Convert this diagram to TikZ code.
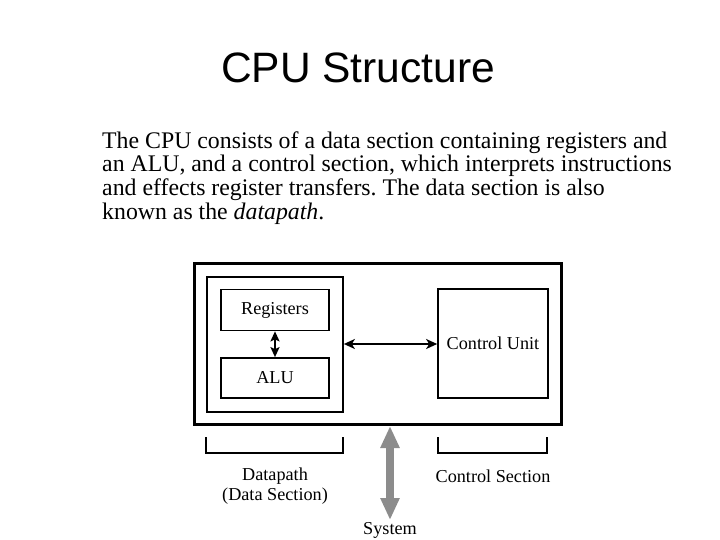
\documentclass[tikz,border=0pt]{standalone}
\usepackage{fontspec}
\setmainfont{Liberation Serif}
\newfontfamily\titlefont{Liberation Sans}
\usetikzlibrary{arrows.meta}
\tikzset{
  cuTip/.tip={Stealth[length=11pt,width=10pt,inset=3pt]},
  regTip/.tip={Stealth[length=10pt,width=9pt,inset=2pt]},
  sysTip/.tip={Triangle[width=18pt,length=22pt,fill=gray!90]}
}
\begin{document}
\begin{tikzpicture}[x=1pt,y=-1pt,
  box/.style={draw,line width=1.7pt,inner sep=0pt},
  lbl/.style={font=\fontsize{18.2}{20}\selectfont,inner sep=0pt},
  brk/.style={line width=1.8pt},
  sysarrow/.style={draw=gray!90,line width=8pt,arrows={sysTip-sysTip}}]
\useasboundingbox (0,0) rectangle (720,540);
\node[font=\titlefont\fontsize{42.5}{44}\selectfont,inner sep=0pt] (title) at (358,68) {CPU Structure};
\node[anchor=base west,inner sep=0pt,align=left,font=\fontsize{23.8}{23.6}\selectfont] (body) at (102,219)
{The CPU consists of a data section containing registers and\\
an ALU, and a control section, which interprets instructions\\
and effects register transfers.\ The data section is also\\
known as the \textit{datapath}.};
% boxes
\node[box,line width=3.5pt,minimum width=367pt,minimum height=161pt] (outer) at (378,344) {};
\node[box,minimum width=136pt,minimum height=135pt] (data) at (275,344.5) {};
\node[box,minimum width=108pt,minimum height=41pt,lbl] (reg) at (275,310) {Registers};
\node[box,minimum width=108pt,minimum height=40pt,lbl] (alu) at (275,378) {ALU};
\node[box,minimum width=110pt,minimum height=109pt,lbl] (cu) at (493,343.5) {Control Unit};
\draw[line width=1.8pt,cuTip-cuTip] (data.east |- 0,344) -- (cu.west |- 0,344);
\draw[line width=2.5pt,regTip-regTip] (reg.south) -- (alu.north);
% brackets
\coordinate (b1a) at (206,437);
\coordinate (b1b) at (343,437);
\coordinate (b2a) at (438,437);
\coordinate (b2b) at (547,437);
\draw[brk] (b1a) -- ++(0,16) -| (b1b);
\draw[brk] (b2a) -- ++(0,16) -| (b2b);
\node[lbl,align=center,font=\fontsize{18.2}{19.5}\selectfont] (dp) at (275,486) {Datapath\\(Data Section)};
\node[lbl] (cs) at (493,476) {Control Section};
\node[lbl,anchor=north] (sys) at (390,522) {System};
\coordinate (systop) at (390,426);
\coordinate (sysbot) at (390,520);
\draw[sysarrow] (systop) -- (sysbot);
\end{tikzpicture}
\end{document}
